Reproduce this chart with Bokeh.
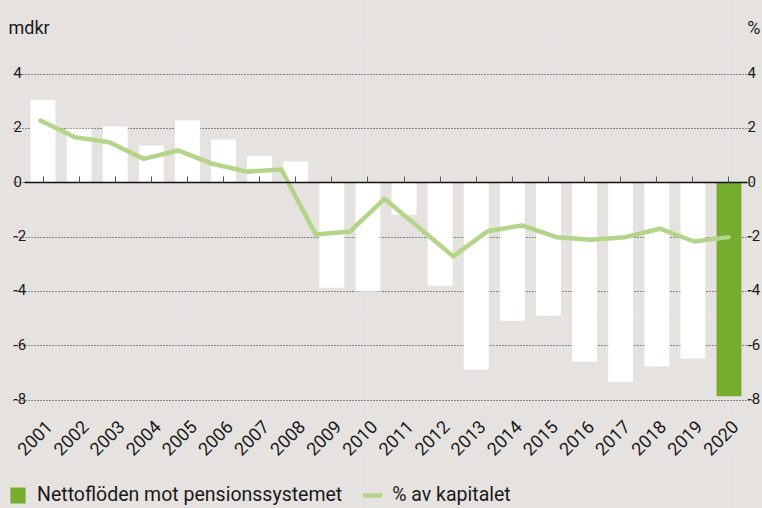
from math import pi
from bokeh.plotting import figure
from bokeh.models import (Range1d, FixedTicker, LinearAxis, Grid, Label, Legend,
                          LegendItem, ColumnDataSource, CustomJSTickFormatter,
                          GlobalInlineStyleSheet)
from bokeh.embed import file_html
from bokeh.resources import INLINE

# ---------------- data ----------------
years = [2001, 2002, 2003, 2004, 2005, 2006, 2007, 2008, 2009, 2010,
         2011, 2012, 2013, 2014, 2015, 2016, 2017, 2018, 2019, 2020]
netflow_bn = [3.06, 1.99, 2.07, 1.37, 2.29, 1.59, 1.00, 0.78, -3.86, -4.00,
              -1.18, -3.79, -6.87, -5.08, -4.89, -6.58, -7.33, -6.76, -6.47, -7.86]

pct_years = [2000, 2001, 2002, 2003, 2004, 2005, 2006, 2007, 2008, 2009,
             2010, 2012, 2013, 2014, 2015, 2016, 2017, 2018, 2019, 2020]
pct_of_capital = [2.29, 1.68, 1.49, 0.88, 1.19, 0.70, 0.41, 0.49, -1.90, -1.79,
                  -0.59, -2.71, -1.78, -1.57, -2.00, -2.10, -2.00, -1.69, -2.16, -2.00]

y_ticks = [-8, -6, -4, -2, 0, 2, 4]
y_tick_labels = ["-8", "-6", "-4", "-2", "0", "2", "4"]
left_unit = "mdkr"
right_unit = "%"
bar_label = "Nettoflöden mot pensionssystemet"
line_label = "% av kapitalet"

# ---------------- style / layout ----------------
BG = "#E5E2DF"
WHITE = "#FFFFFF"
GREEN = "#76AD2F"
LIGHT_GREEN = "#B4D48A"
TXT = "#1A1A1A"
FONT = "Roboto"

W, H = 762, 508
FRAME_W, FRAME_H = W, H
PX_PER_UNIT = 27.17
ZERO_PX = 182.3                      # screen y of the zero line
Y_TOP = ZERO_PX / PX_PER_UNIT
Y_BOTTOM = -(FRAME_H - ZERO_PX) / PX_PER_UNIT
CHART_BOTTOM = -8.16                 # where the year labels hang from
LABEL_SHIFT = 0.17                   # year labels sit slightly right of the tick
GRID_LEFT, GRID_RIGHT = 13, 753      # screen x extent of the dotted grid

BAR_STEP = 36.105                    # px per bar slot
BAR_FIRST = 42.5                     # px of first bar centre
LINE_STEP = 34.4
LINE_FIRST = 40.0

bar_x0 = years[0] - BAR_FIRST / BAR_STEP
bar_x1 = years[0] + (FRAME_W - BAR_FIRST) / BAR_STEP
line_x0 = pct_years[0] - LINE_FIRST / LINE_STEP
line_x1 = pct_years[0] + (FRAME_W - LINE_FIRST) / LINE_STEP

p = figure(width=W, height=H, output_backend="svg", toolbar_location=None,
           x_range=Range1d(bar_x0, bar_x1),
           y_range=Range1d(Y_BOTTOM, Y_TOP),
           x_axis_location=None, y_axis_location=None,
           background_fill_color=BG, border_fill_color=BG,
           outline_line_color=None)
p.min_border = 0
p.stylesheets = [GlobalInlineStyleSheet(css=f"html, body {{ background: {BG}; }}")]
p.extra_x_ranges = {"pct": Range1d(line_x0, line_x1)}

# dotted horizontal grid
grid = Grid(dimension=1, ticker=FixedTicker(ticks=y_ticks),
            grid_line_color="#2A2A2A", grid_line_dash="1 2", grid_line_width=1)
try:
    grid.cross_bounds = (years[0] + (GRID_LEFT - BAR_FIRST) / BAR_STEP,
                         years[0] + (GRID_RIGHT - BAR_FIRST) / BAR_STEP)
except Exception:
    pass
p.add_layout(grid)

# bars
bar_colors = [GREEN if y == years[-1] else WHITE for y in years]
src = ColumnDataSource(dict(year=years, value=netflow_bn, color=bar_colors))
bars = p.vbar(x="year", top="value", bottom=0, width=0.69, source=src,
              fill_color="color", line_color=None)

# line
line = p.line(pct_years, pct_of_capital, x_range_name="pct",
              line_color=LIGHT_GREEN, line_width=4.5, line_join="round",
              line_cap="round")

# year labels (axis fixed at the bottom of the chart area)
xa = LinearAxis(fixed_location=CHART_BOTTOM,
                ticker=FixedTicker(ticks=[y + LABEL_SHIFT for y in years]),
                formatter=CustomJSTickFormatter(code="return String(Math.round(tick))"),
                major_label_orientation=pi / 4,
                axis_line_color=None, major_tick_line_color=None,
                major_tick_out=0, major_tick_in=0, minor_tick_line_color=None,
                major_label_text_font=FONT, major_label_text_font_size="18px",
                major_label_text_color=TXT, major_label_standoff=19)
p.add_layout(xa, "below")

# zero line axis with inward ticks
ax0 = LinearAxis(fixed_location=0, ticker=FixedTicker(ticks=years),
                 bounds=(years[0] - 0.5, years[-1] + 0.5),
                 major_tick_in=6, major_tick_out=0,
                 minor_tick_line_color=None,
                 major_tick_line_color="#555555",
                 axis_line_color="#111111", axis_line_width=1.6,
                 formatter=CustomJSTickFormatter(code="return ''"),
                 major_label_text_font_size="1px")
p.add_layout(ax0, "below")

# y tick labels on both sides, sitting on the grid lines
for t, lbl in zip(y_ticks, y_tick_labels):
    p.add_layout(Label(x=GRID_LEFT, x_units="screen", y=t, text=lbl,
                       text_font=FONT, text_font_size="15px", text_color=TXT,
                       text_align="left", text_baseline="alphabetic",
                       y_offset=1.5))
    p.add_layout(Label(x=GRID_RIGHT - 6, x_units="screen", y=t, text=lbl,
                       text_font=FONT, text_font_size="15px", text_color=TXT,
                       text_align="left", text_baseline="alphabetic",
                       y_offset=1.5))

# unit labels
p.add_layout(Label(x=8, x_units="screen", y=FRAME_H - 27, y_units="screen",
                   text=left_unit, text_font=FONT, text_font_size="18px",
                   text_color=TXT, text_align="left", text_baseline="alphabetic"))
p.add_layout(Label(x=FRAME_W - 2, x_units="screen", y=FRAME_H - 27, y_units="screen",
                   text=right_unit, text_font=FONT, text_font_size="18px",
                   text_color=TXT, text_align="right", text_baseline="alphabetic"))

# legend at the bottom
legend = Legend(items=[LegendItem(label=bar_label, renderers=[bars], index=len(years) - 1),
                       LegendItem(label=line_label, renderers=[line])],
                orientation="horizontal", location=(8, 2),
                glyph_width=19, glyph_height=20, label_height=20,
                label_standoff=10, spacing=21, padding=0, margin=0,
                border_line_color=None, background_fill_alpha=0,
                label_text_font=FONT, label_text_font_size="19.5px",
                label_text_color=TXT)
p.add_layout(legend)

open("out.html", "w").write(file_html(p, INLINE))
